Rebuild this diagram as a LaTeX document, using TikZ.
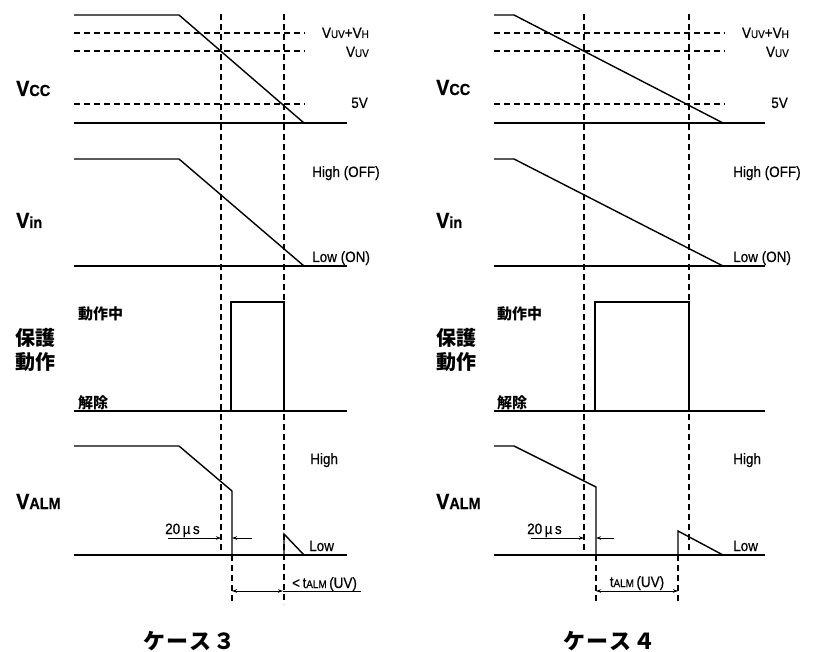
\documentclass[tikz,border=0pt]{standalone}
\usepackage{fontspec}
\setmainfont{Liberation Sans}[FakeStretch=0.9, FakeBold=0.5]
\newfontfamily\jpfont{Noto Sans CJK JP}
\usetikzlibrary{arrows.meta}
\newcommand\sz[1]{\fontsize{#1}{#1}\selectfont}
\newcommand\bigsig[2]{{\bfseries\sz{22}V}{\bfseries\sz{16}#2}}
\tikzset{
  sig/.style={line width=1.4pt, line join=miter},
  dsh/.style={line width=1.4pt, dash pattern=on 6pt off 4pt},
  dim/.style={line width=0.9pt},
  tipr/.style={-{Stealth[length=5pt,width=3.5pt]}},
  tipb/.style={{Stealth[length=5pt,width=3.5pt]}-{Stealth[length=5pt,width=3.5pt]}},
  lbl/.style={inner sep=0pt, font=\sz{15}},
  biglbl/.style={inner sep=0pt, anchor=base west},
  jpsm/.style={inner sep=0pt, anchor=west, font=\jpfont\bfseries\sz{15}},
  jpbig/.style={inner sep=0pt, anchor=west, font=\jpfont\bfseries\sz{20}},
  caselbl/.style={inner sep=0pt, anchor=west, font=\jpfont\bfseries\sz{22}},
}
\begin{document}
\begin{tikzpicture}[x=1pt,y=-1pt]
\useasboundingbox (0,0) rectangle (819,652);

% ================= CASE 3 =================
% dashed verticals
\draw[dsh] (221,14) -- (221,555);
\draw[dsh] (284,14) -- (284,604);
\draw[dsh] (232,555) -- (232,604);
% Vcc
\draw[dsh] (74,33) -- (305,33);
\draw[dsh] (74,51) -- (305,51);
\draw[dsh] (74,104) -- (305,104);
\draw[sig] (74,15) -- (179,15) -- (304,123);
\draw[sig] (74,123) -- (347,123);
% Vin
\draw[sig] (74,159) -- (179,159) -- (304,266);
\draw[sig] (74,266) -- (347,266);
% protection
\draw[sig] (74,411) -- (347,411);
\draw[sig] (231,411) -- (231,302) -- (284,302) -- (284,411);
% VALM
\draw[sig] (74,446) -- (179,446) -- (232,491) -- (232,555);
\draw[sig] (74,555) -- (347,555);
\draw[sig] (284,555) -- (284,534) -- (304,555);
% 20us
\coordinate (a3l) at (168,538);
\coordinate (a3m) at (221,538);
\coordinate (a3n) at (232,538);
\coordinate (a3r) at (252,538);
\draw[dim,tipr] (a3l) -- (a3m);
\draw[dim,tipr] (a3r) -- (a3n);
% tALM
\coordinate (t3l) at (232,591);
\coordinate (t3r) at (283,591);
\coordinate (t3e) at (361,591);
\draw[dim,tipb] (t3l) -- (t3r);
\draw[dim] (t3r) -- (t3e);

% labels case 3
\node[biglbl] (vcc3) at (16,96) {\bigsig{V}{CC}};
\node[biglbl] (vin3) at (16,228) {\bigsig{V}{in}};
\node[jpbig] (ho3) at (15,338) {保護};
\node[jpbig] (dos3) at (15,362) {動作};
\node[biglbl] (valm3) at (16,509) {\bigsig{V}{ALM}};
\node[lbl,anchor=base east] (uvh3) at (369,38) {V{\sz{11}UV}+V{\sz{11}H}};
\node[lbl,anchor=base east] (uv3) at (369,57) {V{\sz{11}UV}};
\node[lbl,anchor=base east] (v53) at (368,108) {5V};
\node[lbl,anchor=base west] (hi3) at (312,177) {High (OFF)};
\node[lbl,anchor=base west] (lo3) at (312,262) {Low (ON)};
\node[jpsm] (act3) at (78,314) {動作中};
\node[jpsm] (rel3) at (78,403) {解除};
\node[lbl,anchor=base west] (hh3) at (310,464) {High};
\node[lbl,anchor=base west] (ll3) at (309,551) {Low};
\node[lbl,anchor=base west] (us3) at (165,534) {20\,µ\,s};
\node[lbl,anchor=base west] (ta3) at (292,588) {<\,t{\sz{11}ALM}\,(UV)};
\node[caselbl] (c3) at (143,641) {ケ\kern1pt ー\kern1pt ス\kern2pt ３};

% ================= CASE 4 =================
\draw[dsh] (584,14) -- (584,555);
\draw[dsh] (689,14) -- (689,555);
\draw[dsh] (596,555) -- (596,604);
\draw[dsh] (678,555) -- (678,604);
% Vcc
\draw[dsh] (494,33) -- (725,33);
\draw[dsh] (494,51) -- (725,51);
\draw[dsh] (494,104) -- (725,104);
\draw[sig] (494,15) -- (514,15) -- (723,123);
\draw[sig] (494,123) -- (765,123);
% Vin
\draw[sig] (494,159) -- (514,159) -- (723,266);
\draw[sig] (494,266) -- (765,266);
% protection
\draw[sig] (494,411) -- (765,411);
\draw[sig] (595,411) -- (595,302) -- (689,302) -- (689,411);
% VALM
\draw[sig] (494,446) -- (514,446) -- (596,487) -- (596,555);
\draw[sig] (494,555) -- (765,555);
\draw[sig] (678,555) -- (678,531) -- (723,555);
% 20us
\coordinate (a4l) at (531,538);
\coordinate (a4m) at (584,538);
\coordinate (a4n) at (596,538);
\coordinate (a4r) at (614,538);
\draw[dim,tipr] (a4l) -- (a4m);
\draw[dim,tipr] (a4r) -- (a4n);
% tALM
\coordinate (t4l) at (596,591);
\coordinate (t4r) at (678,591);
\draw[dim,tipb] (t4l) -- (t4r);

% labels case 4
\node[biglbl] (vcc4) at (436,95) {\bigsig{V}{CC}};
\node[biglbl] (vin4) at (436,228) {\bigsig{V}{in}};
\node[jpbig] (ho4) at (436,338) {保護};
\node[jpbig] (dos4) at (436,362) {動作};
\node[biglbl] (valm4) at (436,509) {\bigsig{V}{ALM}};
\node[lbl,anchor=base east] (uvh4) at (789,38) {V{\sz{11}UV}+V{\sz{11}H}};
\node[lbl,anchor=base east] (uv4) at (789,57) {V{\sz{11}UV}};
\node[lbl,anchor=base east] (v54) at (788,108) {5V};
\node[lbl,anchor=base west] (hi4) at (733,177) {High (OFF)};
\node[lbl,anchor=base west] (lo4) at (733,262) {Low (ON)};
\node[jpsm] (act4) at (497,314) {動作中};
\node[jpsm] (rel4) at (497,403) {解除};
\node[lbl,anchor=base west] (hh4) at (733,464) {High};
\node[lbl,anchor=base west] (ll4) at (733,551) {Low};
\node[lbl,anchor=base west] (us4) at (527,534) {20\,µ\,s};
\node[lbl,anchor=base] (ta4) at (637,587) {t{\sz{11}ALM}\,(UV)};
\node[caselbl] (c4) at (563,641) {ケ\kern1pt ー\kern1pt ス\kern2pt ４};
\end{tikzpicture}
\end{document}
